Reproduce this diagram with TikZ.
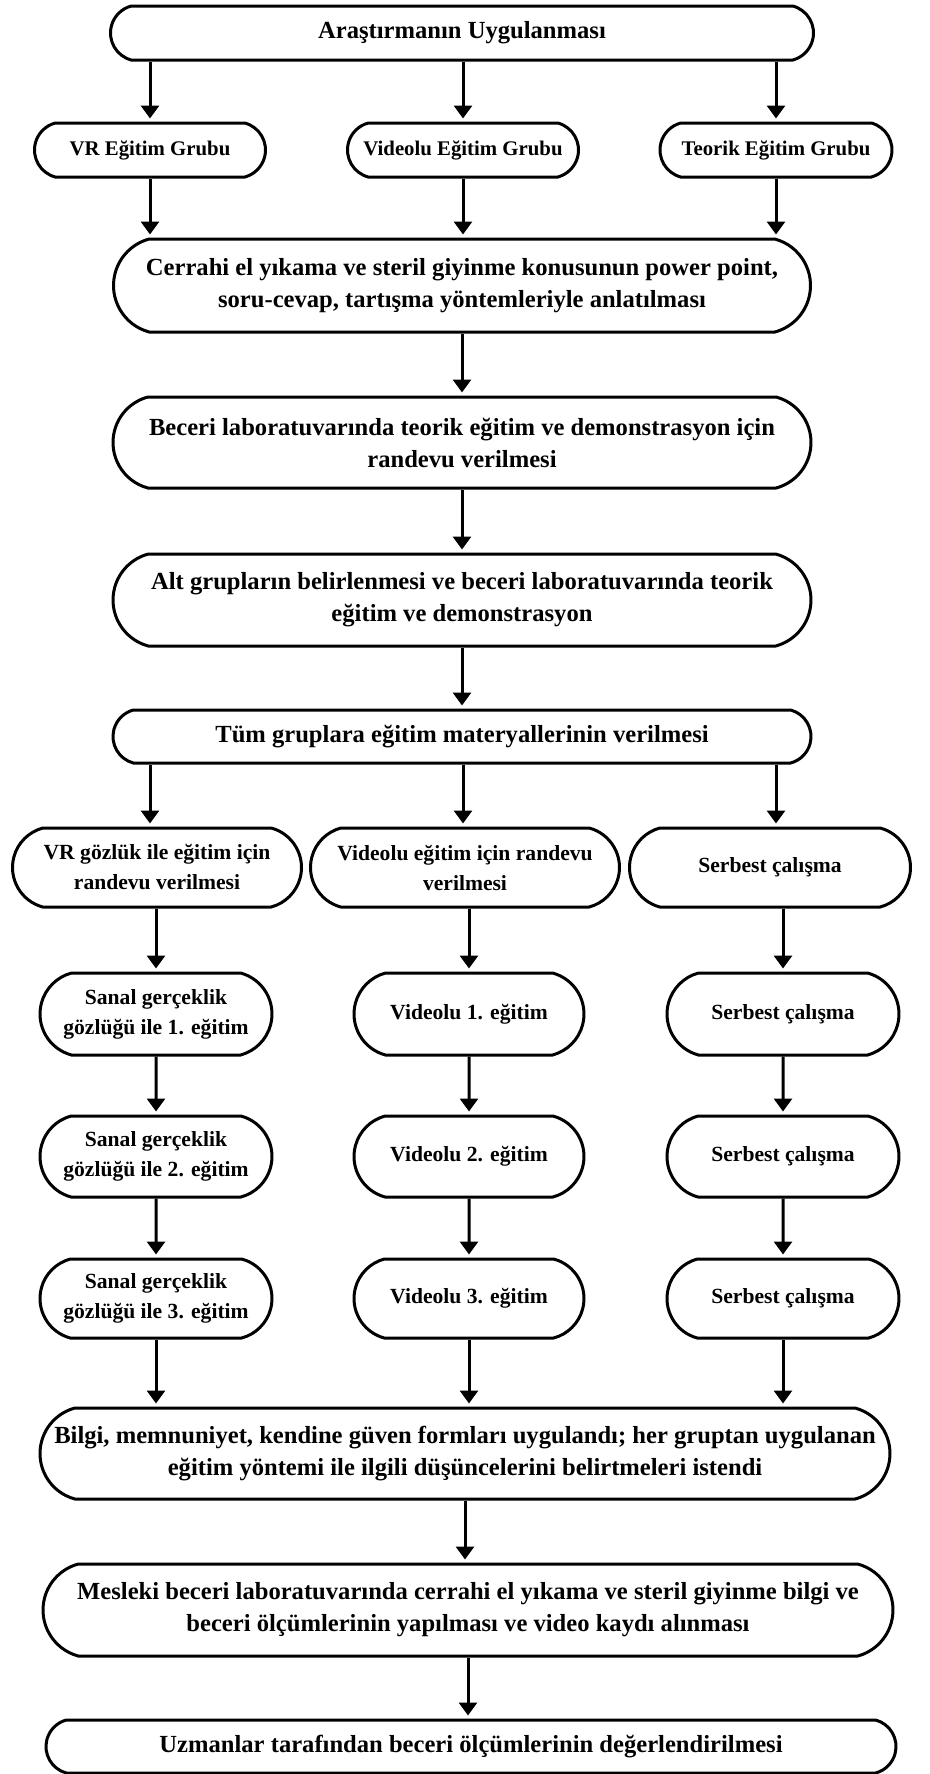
\documentclass[tikz,border=0pt]{standalone}
\usepackage{fontspec}
\setmainfont{Liberation Serif}
\usetikzlibrary{positioning, arrows.meta, shapes.misc}
\tikzset{
    box/.style={draw, line width=1.5pt, rounded rectangle, rounded rectangle arc length=150,
        align=center, inner sep=0pt, font=\bfseries\fontsize{12.3}{16}\selectfont},
    grp/.style={box, font=\bfseries\fontsize{10.4}{14}\selectfont},
    col/.style={box, font=\bfseries\fontsize{10.8}{15}\selectfont},
    arr/.style={-{Triangle[width=9pt,length=6.5pt]}, line width=1.5pt, shorten >=1.5pt}
}

\begin{document}
\begin{tikzpicture}[x=0.5pt, y=-0.5pt]
    \useasboundingbox (0,0) rectangle (930,1774);

    \node[box, minimum width=351.5pt, minimum height=27pt] (top) at (462,33) {Araştırmanın Uygulanması};

    \node[grp, minimum width=115.5pt, minimum height=27pt] (vr) at (150,150) {VR Eğitim Grubu};
    \node[grp, minimum width=115.5pt, minimum height=27pt] (vid) at (463,150) {Videolu Eğitim Grubu};
    \node[grp, minimum width=116pt, minimum height=27pt] (teo) at (776,150) {Teorik Eğitim Grubu};

    \node[box, minimum width=348.5pt, minimum height=46.5pt] (anl) at (462,285.5)
        {Cerrahi el yıkama ve steril giyinme konusunun power point,\\soru-cevap, tartışma yöntemleriyle anlatılması};
    \node[box, minimum width=349pt, minimum height=45.5pt] (ran) at (462,442.5)
        {Beceri laboratuvarında teorik eğitim ve demonstrasyon için\\randevu verilmesi};
    \node[box, minimum width=349pt, minimum height=46pt] (alt) at (462,600)
        {Alt grupların belirlenmesi ve beceri laboratuvarında teorik\\eğitim ve demonstrasyon};
    \node[box, minimum width=349pt, minimum height=26.5pt] (mat) at (462,736.5)
        {Tüm gruplara eğitim materyallerinin verilmesi};

    \node[col, minimum width=144.5pt, minimum height=39.5pt] (vrr) at (157,867.5)
        {VR gözlük ile eğitim için\\randevu verilmesi};
    \node[col, minimum width=154.5pt, minimum height=39.5pt] (vidr) at (465,867.5)
        {Videolu eğitim için randevu\\verilmesi};
    \node[col, minimum width=140.5pt, minimum height=39.5pt] (ser) at (770,867.5)
        {Serbest çalışma};

    \node[col, minimum width=116pt, minimum height=41pt] (s1) at (156,1014)
        {Sanal gerçeklik\\gözlüğü ile 1. eğitim};
    \node[col, minimum width=115pt, minimum height=41pt] (v1) at (469,1014) {Videolu 1. eğitim};
    \node[col, minimum width=116pt, minimum height=41pt] (f1) at (783,1014) {Serbest çalışma};

    \node[col, minimum width=116pt, minimum height=40.5pt] (s2) at (156,1156.5)
        {Sanal gerçeklik\\gözlüğü ile 2. eğitim};
    \node[col, minimum width=115pt, minimum height=40.5pt] (v2) at (469,1156.5) {Videolu 2. eğitim};
    \node[col, minimum width=116pt, minimum height=40.5pt] (f2) at (783,1156.5) {Serbest çalışma};

    \node[col, minimum width=116pt, minimum height=39.5pt] (s3) at (156,1298.5)
        {Sanal gerçeklik\\gözlüğü ile 3. eğitim};
    \node[col, minimum width=115pt, minimum height=39.5pt] (v3) at (469,1298.5) {Videolu 3. eğitim};
    \node[col, minimum width=116pt, minimum height=39.5pt] (f3) at (783,1298.5) {Serbest çalışma};

    \node[box, minimum width=425pt, minimum height=45.5pt] (frm) at (465,1453.5)
        {Bilgi, memnuniyet, kendine güven formları uygulandı; her gruptan uygulanan\\eğitim yöntemi ile ilgili düşüncelerini belirtmeleri istendi};
    \node[box, minimum width=425pt, minimum height=46pt] (olc) at (468,1610)
        {Mesleki beceri laboratuvarında cerrahi el yıkama ve steril giyinme bilgi ve\\beceri ölçümlerinin yapılması ve video kaydı alınması};
    \node[box, minimum width=425pt, minimum height=26.5pt] (uzm) at (471,1746.5)
        {Uzmanlar tarafından beceri ölçümlerinin değerlendirilmesi};

    \draw[arr] (top.south -| vr) -- (vr.north);
    \draw[arr] (top.south -| vid) -- (vid.north);
    \draw[arr] (top.south -| teo) -- (teo.north);
    \draw[arr] (vr.south) -- (vr.south |- anl.north);
    \draw[arr] (vid.south) -- (vid.south |- anl.north);
    \draw[arr] (teo.south) -- (teo.south |- anl.north);
    \draw[arr] (anl.south) -- (ran.north);
    \draw[arr] (ran.south) -- (alt.north);
    \draw[arr] (alt.south) -- (mat.north);
    \draw[arr] (mat.south -| vr) -- (vrr.north -| vr);
    \draw[arr] (mat.south -| vid) -- (vidr.north -| vid);
    \draw[arr] (mat.south -| teo) -- (ser.north -| teo);
    \draw[arr] (vrr.south -| s1) -- (s1.north);
    \draw[arr] (vidr.south -| v1) -- (v1.north);
    \draw[arr] (ser.south -| f1) -- (f1.north);
    \draw[arr] (s1) -- (s2);
    \draw[arr] (v1) -- (v2);
    \draw[arr] (f1) -- (f2);
    \draw[arr] (s2) -- (s3);
    \draw[arr] (v2) -- (v3);
    \draw[arr] (f2) -- (f3);
    \draw[arr] (s3.south) -- (s3.south |- frm.north);
    \draw[arr] (v3.south) -- (v3.south |- frm.north);
    \draw[arr] (f3.south) -- (f3.south |- frm.north);
    \draw[arr] (frm.south) -- (frm.south |- olc.north);
    \draw[arr] (olc.south) -- (olc.south |- uzm.north);
\end{tikzpicture}
\end{document}
